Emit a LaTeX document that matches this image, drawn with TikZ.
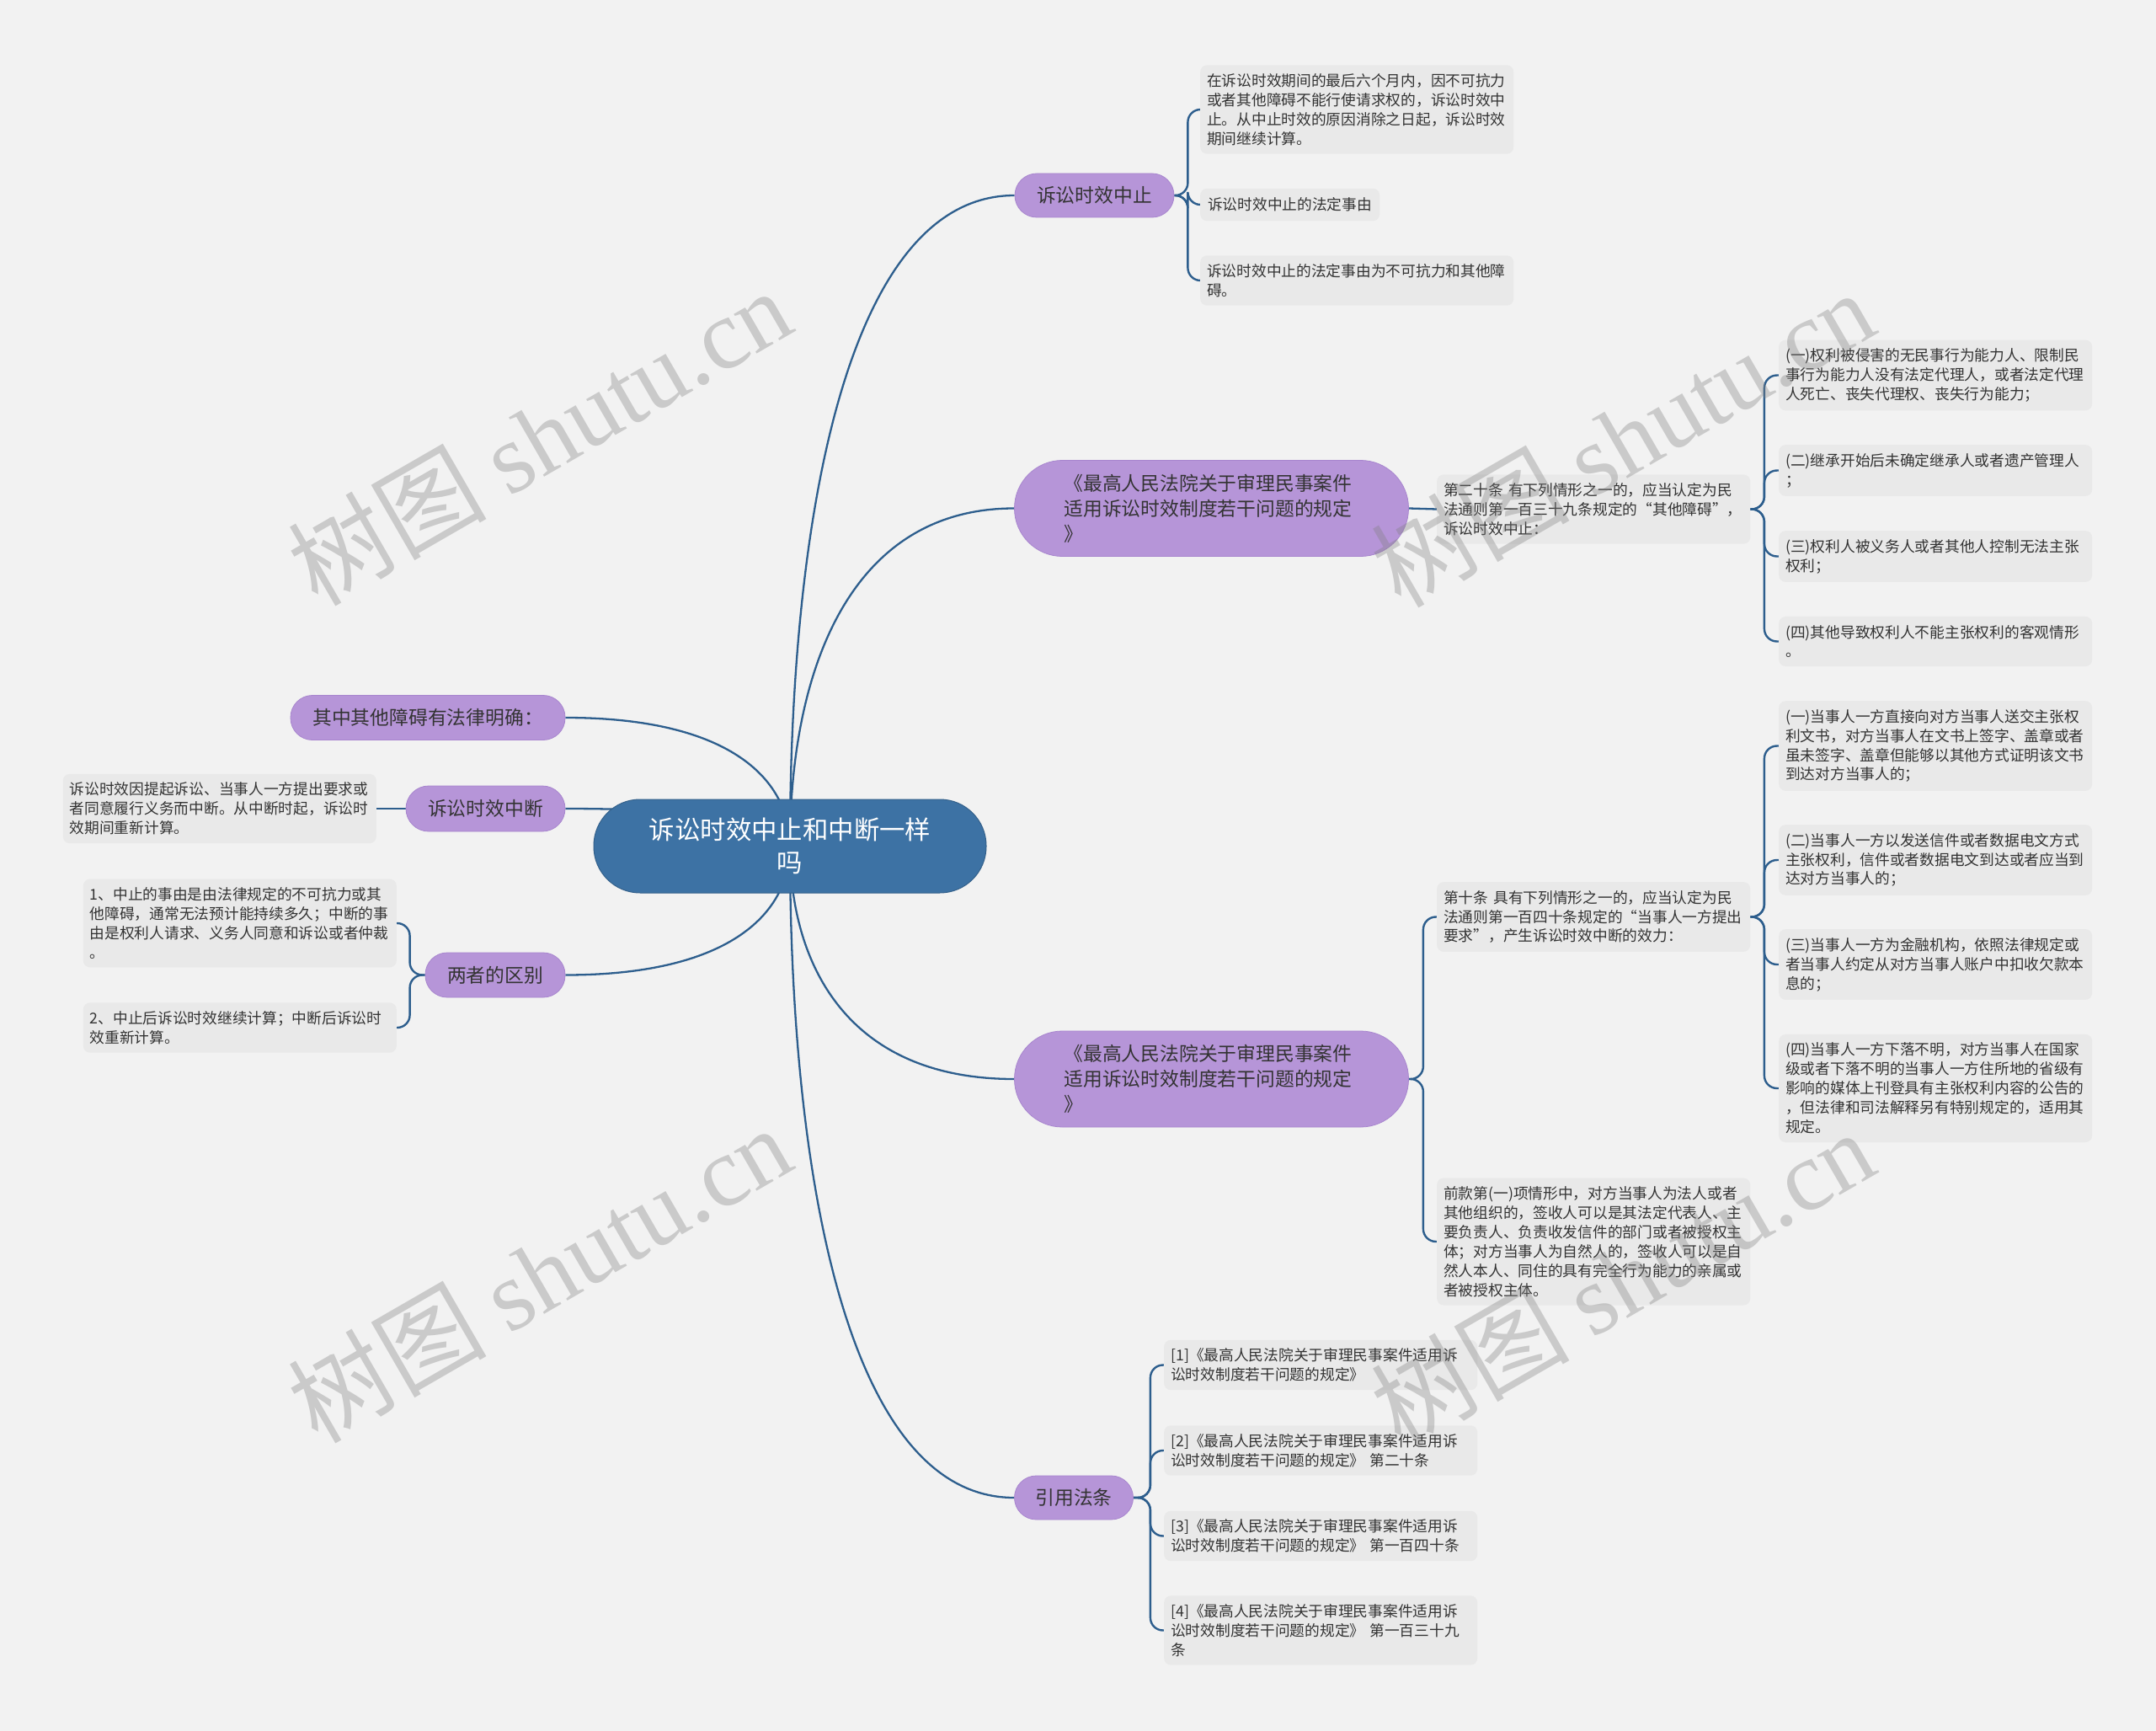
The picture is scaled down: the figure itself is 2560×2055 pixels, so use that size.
\documentclass[tikz,border=0pt]{standalone}
\usepackage{fontspec}
\setmainfont{Noto Sans CJK SC}
\newfontfamily\wmlatin{Liberation Serif}
\newfontfamily\wmcjk{Noto Sans CJK SC}
\usetikzlibrary{calc}
\pgfdeclarelayer{bglayer}
\pgfdeclarelayer{linklayer}
\pgfsetlayers{bglayer,linklayer,main}
\definecolor{bgc}{RGB}{242,242,242}
\definecolor{leaffill}{RGB}{233,233,233}
\definecolor{purp}{RGB}{182,149,216}
\definecolor{purpline}{RGB}{168,134,206}
\definecolor{cblue}{RGB}{61,114,164}
\definecolor{linkc}{RGB}{45,94,141}
\definecolor{txt}{RGB}{51,51,51}
\begin{document}
\begin{tikzpicture}[x=1pt,y=-1pt,
  central/.style={fill=cblue, draw=cblue!85!black, line width=1, text=white, align=center,
    font=\fontsize{30.4}{39}\selectfont, minimum width=466, minimum height=111, rounded corners=55, inner sep=0},
  mainbox/.style={fill=purp, draw=purpline, line width=0.8, text=txt,
    font=\fontsize{22.8}{30}\selectfont, inner sep=0, align=left},
  bookbox/.style={mainbox, minimum width=468, minimum height=114, rounded corners=57, inner xsep=0, text width=350},
  leaf/.style={fill=leaffill, text=txt, font=\fontsize{17.72}{22.9}\selectfont, rounded corners=8,
    inner xsep=8, inner ysep=10, align=left, text width=356},
  leafone/.style={fill=leaffill, text=txt, font=\fontsize{17.72}{22.9}\selectfont, rounded corners=8,
    inner xsep=9, inner ysep=11},
  link/.style={draw=linkc, line width=2.3},
  brk/.style={draw=linkc, line width=2.4, rounded corners=15},
  wm/.style={rotate=30, text=black!50, opacity=0.35, inner sep=0, font=\fontsize{118}{118}\selectfont}
]
\begin{pgfonlayer}{bglayer}
\fill[bgc] (0,0) rectangle (2560,2055);
\end{pgfonlayer}
\useasboundingbox (0,0) rectangle (2560,2055);

% central
\node[central] (c) at (938,1004.5) {诉讼时效中止和中断一样\\吗};

% main branches
\node[mainbox, minimum width=189, minimum height=52, rounded corners=26, align=center] (m1) at (1299.5,232) {诉讼时效中止};
\node[bookbox] (m2) at (1438.5,603.5) {《最高人民法院关于审理民事案件\\适用诉讼时效制度若干问题的规定\\》};
\node[mainbox, minimum width=326, minimum height=53, rounded corners=26, align=center] (m3) at (508,852) {其中其他障碍有法律明确：};
\node[mainbox, minimum width=189, minimum height=54, rounded corners=27, align=center] (m4) at (576.5,960) {诉讼时效中断};
\node[mainbox, minimum width=166, minimum height=53, rounded corners=26, align=center] (m5) at (588,1157.5) {两者的区别};
\node[bookbox] (m6) at (1438.5,1281) {《最高人民法院关于审理民事案件\\适用诉讼时效制度若干问题的规定\\》};
\node[mainbox, minimum width=141, minimum height=52, rounded corners=26, align=center] (m7) at (1275,1778) {引用法条};

% branch 1 leaves
\node[leaf, anchor=west] (a1) at (1425,130) {在诉讼时效期间的最后六个月内，因不可抗力\\或者其他障碍不能行使请求权的，诉讼时效中\\止。从中止时效的原因消除之日起，诉讼时效\\期间继续计算。};
\node[leafone, anchor=west] (a2) at (1425,243) {诉讼时效中止的法定事由};
\node[leaf, anchor=west] (a3) at (1425,333) {诉讼时效中止的法定事由为不可抗力和其他障\\碍。};

% branch 2 leaves
\node[leaf, anchor=west] (b0) at (1706,604.5) {第二十条 有下列情形之一的，应当认定为民\\法通则第一百三十九条规定的“其他障碍”，\\诉讼时效中止：};
\node[leaf, anchor=west] (b1) at (2112,445.5) {(一)权利被侵害的无民事行为能力人、限制民\\事行为能力人没有法定代理人，或者法定代理\\人死亡、丧失代理权、丧失行为能力；};
\node[leaf, anchor=west] (b2) at (2112,558.5) {(二)继承开始后未确定继承人或者遗产管理人\\；};
\node[leaf, anchor=west] (b3) at (2112,660.5) {(三)权利人被义务人或者其他人控制无法主张\\权利；};
\node[leaf, anchor=west] (b4) at (2112,761.5) {(四)其他导致权利人不能主张权利的客观情形\\。};

% branch 6 leaves
\node[leaf, anchor=west] (d0) at (1706,1088.5) {第十条 具有下列情形之一的，应当认定为民\\法通则第一百四十条规定的“当事人一方提出\\要求”，产生诉讼时效中断的效力：};
\node[leaf, anchor=west] (d1) at (2112,885.5) {(一)当事人一方直接向对方当事人送交主张权\\利文书，对方当事人在文书上签字、盖章或者\\虽未签字、盖章但能够以其他方式证明该文书\\到达对方当事人的；};
\node[leaf, anchor=west] (d2) at (2112,1021) {(二)当事人一方以发送信件或者数据电文方式\\主张权利，信件或者数据电文到达或者应当到\\达对方当事人的；};
\node[leaf, anchor=west] (d3) at (2112,1145) {(三)当事人一方为金融机构，依照法律规定或\\者当事人约定从对方当事人账户中扣收欠款本\\息的；};
\node[leaf, anchor=west] (d4) at (2112,1292) {(四)当事人一方下落不明，对方当事人在国家\\级或者下落不明的当事人一方住所地的省级有\\影响的媒体上刊登具有主张权利内容的公告的\\，但法律和司法解释另有特别规定的，适用其\\规定。};
\node[leaf, anchor=west] (e0) at (1706,1474) {前款第(一)项情形中，对方当事人为法人或者\\其他组织的，签收人可以是其法定代表人、主\\要负责人、负责收发信件的部门或者被授权主\\体；对方当事人为自然人的，签收人可以是自\\然人本人、同住的具有完全行为能力的亲属或\\者被授权主体。};

% references
\node[leaf, anchor=west] (r1) at (1382,1620.5) {[1]《最高人民法院关于审理民事案件适用诉\\讼时效制度若干问题的规定》};
\node[leaf, anchor=west] (r2) at (1382,1722) {[2]《最高人民法院关于审理民事案件适用诉\\讼时效制度若干问题的规定》 第二十条};
\node[leaf, anchor=west] (r3) at (1382,1823.5) {[3]《最高人民法院关于审理民事案件适用诉\\讼时效制度若干问题的规定》 第一百四十条};
\node[leaf, anchor=west] (r4) at (1382,1935.5) {[4]《最高人民法院关于审理民事案件适用诉\\讼时效制度若干问题的规定》 第一百三十九\\条};

% left leaves
\node[leaf, anchor=east] (f1) at (447,960) {诉讼时效因提起诉讼、当事人一方提出要求或\\者同意履行义务而中断。从中断时起，诉讼时\\效期间重新计算。};
\node[leaf, anchor=east] (g1) at (471,1096) {1、中止的事由是由法律规定的不可抗力或其\\他障碍，通常无法预计能持续多久；中断的事\\由是权利人请求、义务人同意和诉讼或者仲裁\\。};
\node[leaf, anchor=east] (g2) at (471,1220) {2、中止后诉讼时效继续计算；中断后诉讼时\\效重新计算。};

% connectors
\begin{pgfonlayer}{linklayer}
\foreach \n/\a in {m1/west, m2/west, m6/west, m7/west, m3/east, m4/east, m5/east}
  \draw[link] (c.center) .. controls ($(c.center)!0.5!(c.center |- \n.\a)$) and ($(\n.\a)!0.75!(\n.\a -| c.center)$) .. (\n.\a);
\coordinate (s1) at ($(m1.east)+(16,0)$);
\foreach \k in {a1,a2,a3} \draw[brk] (m1.east) -- (s1) |- (\k.west);
\draw[link] (m2.east) -- (b0.west);
\coordinate (s2) at ($(b0.east)+(16.5,0)$);
\foreach \k in {b1,b2,b3,b4} \draw[brk] (b0.east) -- (s2) |- (\k.west);
\coordinate (s3) at ($(m6.east)+(17,0)$);
\foreach \k in {d0,e0} \draw[brk] (m6.east) -- (s3) |- (\k.west);
\coordinate (s4) at ($(d0.east)+(16.5,0)$);
\foreach \k in {d1,d2,d3,d4} \draw[brk] (d0.east) -- (s4) |- (\k.west);
\coordinate (s5) at ($(m7.east)+(20,0)$);
\foreach \k in {r1,r2,r3,r4} \draw[brk] (m7.east) -- (s5) |- (\k.west);
\draw[link] (m4.west) -- (f1.east);
\coordinate (s6) at ($(m5.west)+(-18,0)$);
\foreach \k in {g1,g2} \draw[brk] (m5.west) -- (s6) |- (\k.east);
\end{pgfonlayer}

% watermarks
\node[wm] (w1) at (640,518) {\wmcjk 树图 \wmlatin shutu.cn};
\node[wm] (w2) at (1926,520) {\wmcjk 树图 \wmlatin shutu.cn};
\node[wm] (w3) at (640,1512) {\wmcjk 树图 \wmlatin shutu.cn};
\node[wm] (w4) at (1926,1517) {\wmcjk 树图 \wmlatin shutu.cn};
\end{tikzpicture}
\end{document}
